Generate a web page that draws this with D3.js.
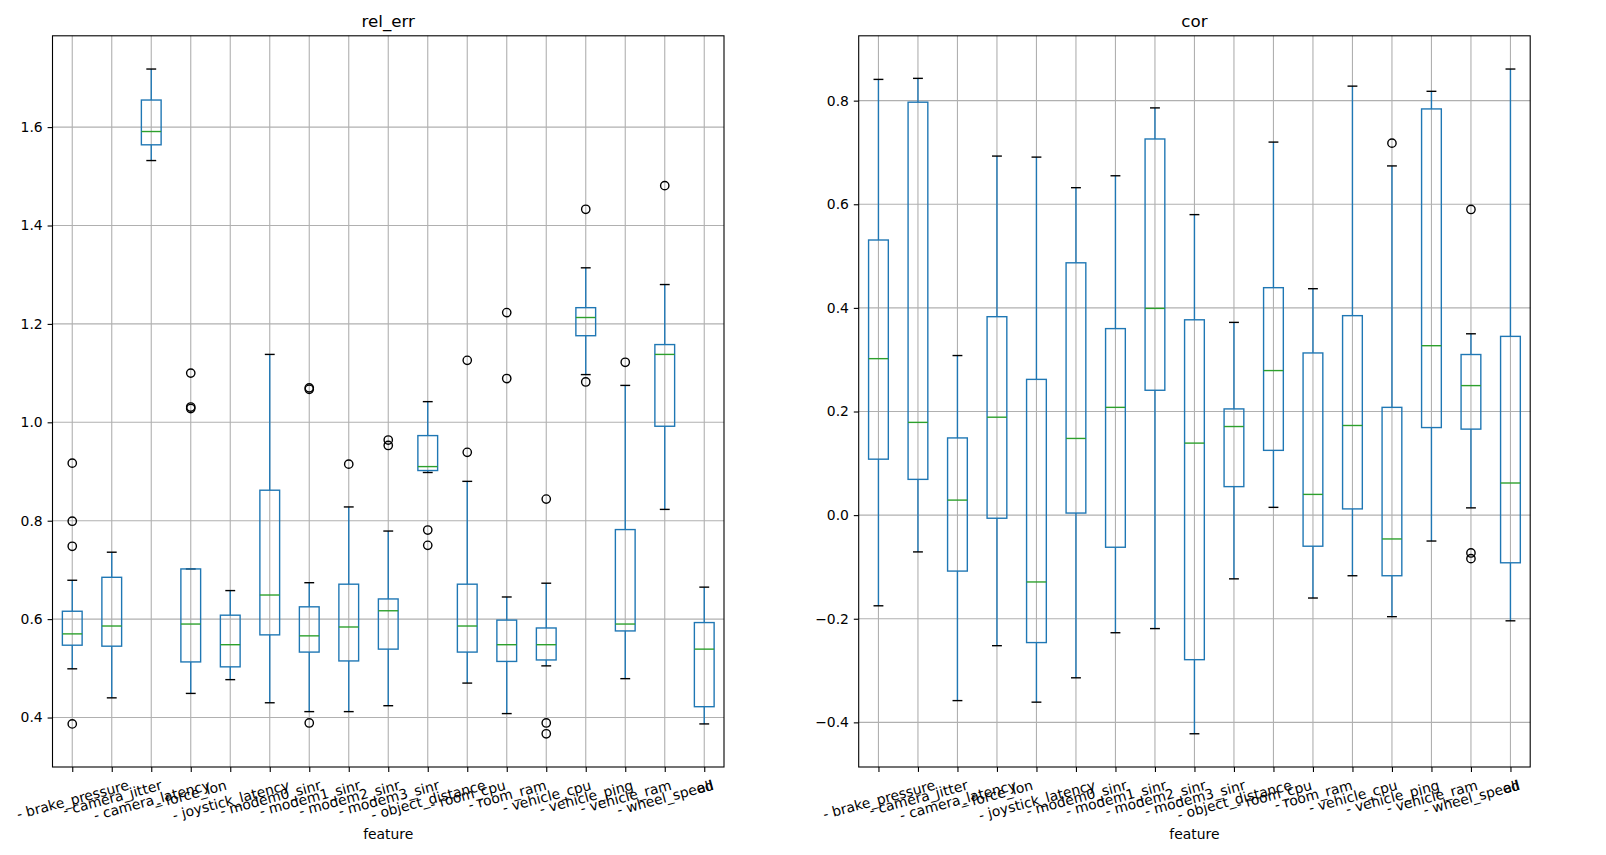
<!DOCTYPE html>
<html>
<head>
<meta charset="utf-8">
<script src="https://cdn.jsdelivr.net/npm/d3@7"></script>
<style>
  body { margin: 0; background: #fff; }
  svg text { font-family: "DejaVu Sans", sans-serif; fill: #000; }
</style>
</head>
<body>
<svg width="1606" height="855"></svg>
<script>
//************************** data **************************//
var features = ["- brake_pressure", "- camera_jitter", "- camera_latency", "- force_lon",
  "- joystick_latency", "- modem0_sinr", "- modem1_sinr", "- modem2_sinr", "- modem3_sinr",
  "- object_distance", "- room_cpu", "- room_ram", "- vehicle_cpu", "- vehicle_ping",
  "- vehicle_ram", "- wheel_speed", "all"];

// rel_err : whisker low, q1, median, q3, whisker high, outliers
var relLo  = [0.499, 0.440, 1.532, 0.449, 0.477, 0.430, 0.412, 0.412, 0.424, 0.898, 0.470, 0.408, 0.505, 1.097, 0.479, 0.823, 0.387];
var relQ1  = [0.547, 0.545, 1.564, 0.513, 0.503, 0.568, 0.533, 0.515, 0.539, 0.902, 0.533, 0.514, 0.517, 1.176, 0.576, 0.992, 0.422];
var relMed = [0.570, 0.586, 1.591, 0.590, 0.548, 0.649, 0.566, 0.584, 0.617, 0.910, 0.586, 0.548, 0.548, 1.213, 0.590, 1.138, 0.539];
var relQ3  = [0.616, 0.685, 1.655, 0.702, 0.608, 0.862, 0.625, 0.671, 0.641, 0.973, 0.671, 0.598, 0.582, 1.233, 0.782, 1.158, 0.593];
var relHi  = [0.679, 0.736, 1.718, 0.702, 0.658, 1.138, 0.674, 0.828, 0.779, 1.042, 0.880, 0.645, 0.673, 1.314, 1.075, 1.280, 0.665];
var relFliers = [
  [0.917, 0.799, 0.748, 0.387], [], [], [1.100, 1.031, 1.028], [], [],
  [1.070, 1.067, 0.389], [0.915], [0.964, 0.953], [0.781, 0.750], [1.126, 0.939],
  [1.223, 1.089], [0.844, 0.389, 0.367], [1.433, 1.082], [1.122], [1.481], []
];
var relTicks = [0.4, 0.6, 0.8, 1.0, 1.2, 1.4, 1.6];

// cor
var corLo  = [-0.175, -0.071, -0.358, -0.252, -0.361, -0.314, -0.227, -0.219, -0.422, -0.123, 0.015, -0.160, -0.117, -0.196, -0.050, 0.014, -0.204];
var corQ1  = [0.108, 0.069, -0.108, -0.006, -0.246, 0.004, -0.062, 0.241, -0.279, 0.055, 0.125, -0.060, 0.012, -0.117, 0.169, 0.166, -0.092];
var corMed = [0.302, 0.179, 0.029, 0.189, -0.129, 0.148, 0.208, 0.399, 0.139, 0.171, 0.279, 0.040, 0.173, -0.046, 0.327, 0.250, 0.062];
var corQ3  = [0.531, 0.797, 0.149, 0.383, 0.262, 0.487, 0.360, 0.726, 0.377, 0.205, 0.439, 0.313, 0.385, 0.208, 0.784, 0.310, 0.345];
var corHi  = [0.841, 0.843, 0.308, 0.693, 0.691, 0.632, 0.655, 0.786, 0.580, 0.372, 0.720, 0.437, 0.828, 0.674, 0.818, 0.350, 0.861];
var corFliers = [[], [], [], [], [], [], [], [], [], [], [], [], [], [0.718], [], [0.590, -0.073, -0.084], []];
var corTicks = [-0.4, -0.2, 0.0, 0.2, 0.4, 0.6, 0.8];

//******************************** drawing ********************************//
var svg = d3.select("svg");
var blue = "#1f77b4", green = "#2ca02c", gridC = "#b0b0b0";
var tickFont = 13.9;

var drawPanel = function(p)
{
  var x = d3.scalePoint()
    .domain(features)
    .range([p.left, p.right])
    .padding(0.5);
  var allVals = p.lo.concat(p.hi, d3.merge(p.fliers));
  var vmin = d3.min(allVals), vmax = d3.max(allVals);
  var pad = (vmax - vmin) * 0.05;
  var y = d3.scaleLinear()
    .domain([vmin - pad, vmax + pad])
    .range([p.bottom, p.top]);
  var step = x.step();

  var g = svg.append("g");

  // grid
  g.selectAll(".gx").data(features).enter().append("line")
    .attr("x1", function(d){return x(d);})
    .attr("x2", function(d){return x(d);})
    .attr("y1", p.top).attr("y2", p.bottom)
    .attr("stroke", gridC).attr("stroke-width", 1.1);
  g.selectAll(".gy").data(p.ticks).enter().append("line")
    .attr("x1", p.left).attr("x2", p.right)
    .attr("y1", function(d){return y(d);})
    .attr("y2", function(d){return y(d);})
    .attr("stroke", gridC).attr("stroke-width", 1.1);

  var rows = features.map(function(f, i) {
    return {f: f, lo: p.lo[i], q1: p.q1[i], med: p.med[i], q3: p.q3[i], hi: p.hi[i], fl: p.fliers[i]};
  });

  var boxes = g.selectAll(".box").data(rows).enter().append("g");

  // whiskers
  boxes.append("line")
    .attr("x1", function(d){return x(d.f);}).attr("x2", function(d){return x(d.f);})
    .attr("y1", function(d){return y(d.q1);}).attr("y2", function(d){return y(d.lo);})
    .attr("stroke", blue).attr("stroke-width", 1.39);
  boxes.append("line")
    .attr("x1", function(d){return x(d.f);}).attr("x2", function(d){return x(d.f);})
    .attr("y1", function(d){return y(d.q3);}).attr("y2", function(d){return y(d.hi);})
    .attr("stroke", blue).attr("stroke-width", 1.39);
  // caps
  ["lo", "hi"].forEach(function(k) {
    boxes.append("line")
      .attr("x1", function(d){return x(d.f) - step * 0.125;})
      .attr("x2", function(d){return x(d.f) + step * 0.125;})
      .attr("y1", function(d){return y(d[k]);})
      .attr("y2", function(d){return y(d[k]);})
      .attr("stroke", "black").attr("stroke-width", 1.39);
  });
  // box
  boxes.append("rect")
    .attr("x", function(d){return x(d.f) - step * 0.25;})
    .attr("y", function(d){return y(d.q3);})
    .attr("width", step * 0.5)
    .attr("height", function(d){return y(d.q1) - y(d.q3);})
    .attr("fill", "none").attr("stroke", blue).attr("stroke-width", 1.39);
  // median
  boxes.append("line")
    .attr("x1", function(d){return x(d.f) - step * 0.25;})
    .attr("x2", function(d){return x(d.f) + step * 0.25;})
    .attr("y1", function(d){return y(d.med);})
    .attr("y2", function(d){return y(d.med);})
    .attr("stroke", green).attr("stroke-width", 1.39);
  // outliers
  boxes.selectAll("circle")
    .data(function(d){ return d.fl.map(function(v){ return {f: d.f, v: v}; }); })
    .enter().append("circle")
    .attr("cx", function(d){return x(d.f);})
    .attr("cy", function(d){return y(d.v);})
    .attr("r", 4.17)
    .attr("fill", "none").attr("stroke", "black").attr("stroke-width", 1.39);

  // frame
  g.append("rect")
    .attr("x", p.left).attr("y", p.top)
    .attr("width", p.right - p.left).attr("height", p.bottom - p.top)
    .attr("fill", "none").attr("stroke", "black").attr("stroke-width", 1.1);

  // y axis
  var yAxis = d3.axisLeft(y)
    .tickValues(p.ticks)
    .tickFormat(d3.format(".1f"))
    .tickSize(4.9).tickPadding(4.9);
  var ya = g.append("g")
    .attr("transform", "translate(" + p.left + ",0)")
    .call(yAxis);
  ya.select(".domain").remove();
  ya.attr("font-family", null).attr("font-size", tickFont);
  ya.selectAll("line").attr("stroke", "black").attr("stroke-width", 1.1);

  // x axis
  var xAxis = d3.axisBottom(x).tickSize(4.9).tickPadding(4.9);
  var xa = g.append("g")
    .attr("transform", "translate(0," + p.bottom + ")")
    .call(xAxis);
  xa.select(".domain").remove();
  xa.attr("font-family", null).attr("font-size", tickFont);
  xa.selectAll("line").attr("stroke", "black").attr("stroke-width", 1.1);
  var a = 15 * Math.PI / 180;
  xa.selectAll("text").each(function() {
    var w = this.getComputedTextLength();
    var h = tickFont * 1.17;
    var H = w * Math.sin(a) + h * Math.cos(a);
    var cy = 9.7 + H / 2;
    d3.select(this)
      .attr("x", 0).attr("y", cy).attr("dy", "0.36em")
      .attr("text-anchor", "middle")
      .attr("transform", "rotate(-15,0," + cy + ")");
  });

  // title and label
  g.append("text")
    .attr("x", (p.left + p.right) / 2).attr("y", p.top - 8.6)
    .attr("text-anchor", "middle").attr("font-size", 16.7)
    .text(p.title);
  g.append("text")
    .attr("x", (p.left + p.right) / 2).attr("y", 839)
    .attr("text-anchor", "middle").attr("font-size", tickFont)
    .text("feature");
};

drawPanel({title: "rel_err", left: 52.5, right: 724, top: 35.8, bottom: 767,
  lo: relLo, q1: relQ1, med: relMed, q3: relQ3, hi: relHi, fliers: relFliers, ticks: relTicks});
drawPanel({title: "cor", left: 858.7, right: 1530.2, top: 35.8, bottom: 767,
  lo: corLo, q1: corQ1, med: corMed, q3: corQ3, hi: corHi, fliers: corFliers, ticks: corTicks});
</script>
</body>
</html>
